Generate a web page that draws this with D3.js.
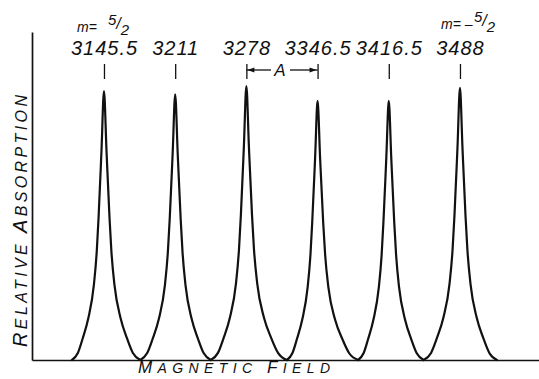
<!DOCTYPE html>
<html><head><meta charset="utf-8">
<script src="https://cdn.jsdelivr.net/npm/d3@7"></script>
<style>
body{margin:0;background:#fff}
svg{display:block}
text{font-family:"Liberation Sans",Arial,sans-serif;font-style:italic;fill:#111}
</style></head><body>
<svg id="c" width="539" height="379"></svg>
<script>
// ---- data ----
const fieldLabels = ["3145.5","3211","3278","3346.5","3416.5","3488"];
const peakHeights = [0.82, 0.81, 0.835, 0.79, 0.79, 0.83];          // relative absorption
const valleys = [-0.45, 0.51, 1.50, 2.57, 3.57, 4.49, 5.52];         // feet between lines (line-index units)
// measured line shape: [offset from line centre (line-index units), fraction of peak height]
const lineShape = [[0,1],[0.035,0.78],[0.077,0.53],[0.103,0.405],[0.145,0.28],[0.229,0.155],[0.316,0.08],[0.393,0.026],[0.49,0]];
const mLeft = {m:"m=", num:"5", den:"2", sign:""};
const mRight = {m:"m=", num:"5", den:"2", sign:"–"};
const axisTitleX = [["M","AGNETIC "],["F","IELD"]];
const axisTitleY = [["R","ELATIVE "],["A","BSORPTION"]];

const svg = d3.select("#c");
const x = d3.scaleLinear().domain([-1.011, 6.11]).range([32, 539]);
const y = d3.scaleLinear().domain([0, 1]).range([360, 32]);
const xp = d3.scalePoint().domain(fieldLabels).range([x(0), x(fieldLabels.length-1)]);

// frame axes (no ticks)
const gx = svg.append("g").attr("transform","translate(0,360)")
  .call(d3.axisBottom(x).ticks(0).tickSizeOuter(0));
const gy = svg.append("g").attr("transform","translate(32,0)")
  .call(d3.axisLeft(y).ticks(0).tickSizeOuter(0));
[gx,gy].forEach(g=>g.select(".domain").attr("stroke","#111").attr("stroke-width",1.7));

// top axis with field values
const gt = svg.append("g").attr("transform","translate(0,79)")
  .call(d3.axisTop(xp).tickSize(15).tickPadding(9));
gt.select(".domain").remove();
gt.selectAll(".tick line").attr("stroke","#111").attr("stroke-width",1.3);
gt.selectAll(".tick text").attr("fill","#111").style("font-size","20px")
  .style("letter-spacing","1px").attr("font-family",null);

// absorption lines
const line = d3.line().x(d=>x(d[0])).y(d=>y(d[1])).curve(d3.curveMonotoneX);
const stretch = (o, dist) => { const end = lineShape[lineShape.length-1][0]; return o*(1 + (dist/end - 1)*(o/end)); };
peakHeights.forEach((h,i)=>{
  const ld = i - valleys[i], rd = valleys[i+1] - i;
  const pts = [];
  for (let j = lineShape.length-1; j >= 1; j--) pts.push([i - stretch(lineShape[j][0], ld), h*lineShape[j][1]]);
  pts.push([i, h]);
  for (let j = 1; j < lineShape.length; j++) pts.push([i + stretch(lineShape[j][0], rd), h*lineShape[j][1]]);
  svg.append("path").attr("d", line(pts)).attr("fill","none").attr("stroke","#111")
    .attr("stroke-width",2.2).attr("stroke-linejoin","round").attr("stroke-linecap","round");
});

// hyperfine spacing A between lines 3 and 4
const ax0 = xp(fieldLabels[2]), ax1 = xp(fieldLabels[3]), ay = 70, amid = (ax0+ax1)/2 - 2;
svg.append("line").attr("x1",ax0).attr("x2",amid-9).attr("y1",ay).attr("y2",ay).attr("stroke","#111").attr("stroke-width",1.3);
svg.append("line").attr("x1",amid+10).attr("x2",ax1).attr("y1",ay).attr("y2",ay).attr("stroke","#111").attr("stroke-width",1.3);
svg.append("path").attr("d",`M${ax0+1},${ay}L${ax0+8},${ay-2.6}L${ax0+8},${ay+2.6}Z`).attr("fill","#111");
svg.append("path").attr("d",`M${ax1-1},${ay}L${ax1-8},${ay-2.6}L${ax1-8},${ay+2.6}Z`).attr("fill","#111");
svg.append("text").attr("x",amid).attr("y",76).attr("text-anchor","middle").style("font-size","17px").text("A");

// m labels: "m=" (with sign) and a hand-lettered fraction drawn as separate, non-overlapping texts
function mLabel(d, xs, yb, fx){
  const t = svg.append("text").attr("x",xs).attr("y",yb).style("font-size","14px").text(d.m + (d.sign ? " " + d.sign : ""));
  const f = svg.append("text").attr("x",fx).attr("y",yb-7).style("font-size","15px");
  f.append("tspan").text(d.num);
  f.append("tspan").style("font-size","16px").attr("dy",4).text("/");
  f.append("tspan").attr("dy",6).text(d.den);
}
mLabel(mLeft, 77, 32, 108);
mLabel(mRight, 441, 29, 474);

// axis titles
const tx = svg.append("text").attr("x",138).attr("y",373).attr("textLength",192).attr("lengthAdjust","spacing");
axisTitleX.forEach(([a,b])=>{ tx.append("tspan").style("font-size","17px").text(a); tx.append("tspan").style("font-size","14px").text(b); });
const ty = svg.append("text").attr("transform","translate(27,221) rotate(-90)").attr("text-anchor","middle")
  .attr("textLength",252).attr("lengthAdjust","spacing");
axisTitleY.forEach(([a,b])=>{ ty.append("tspan").style("font-size","20px").text(a); ty.append("tspan").style("font-size","16px").text(b); });
</script></body></html>
